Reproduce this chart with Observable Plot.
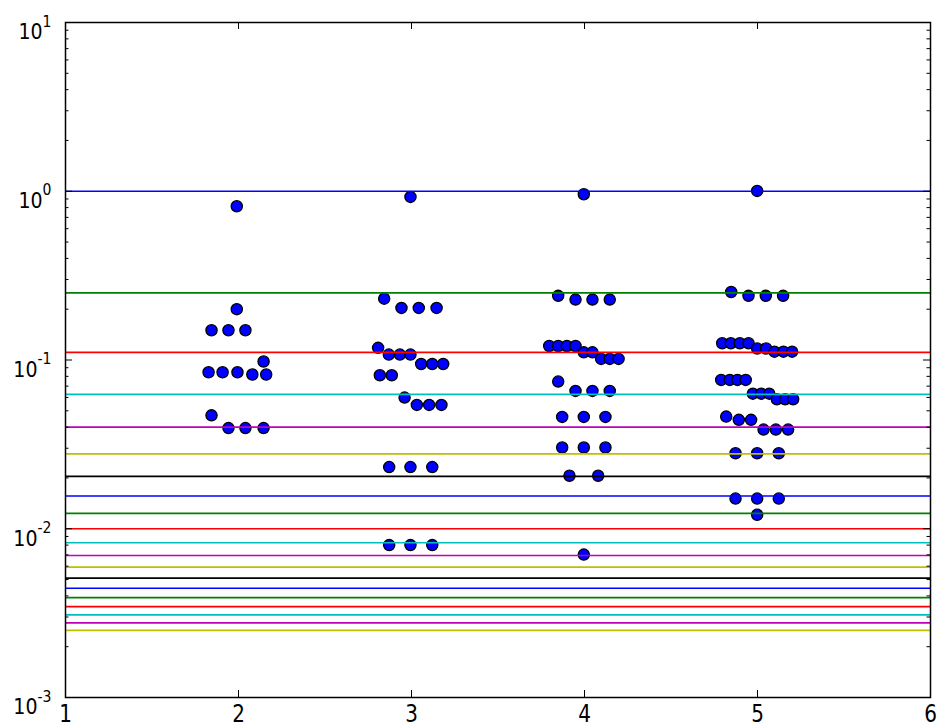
<!DOCTYPE html>
<html><head><meta charset="utf-8">
<script src="https://cdn.jsdelivr.net/npm/d3@7"></script>
<script src="https://cdn.jsdelivr.net/npm/@observablehq/plot@0.6"></script>
<style>html,body{margin:0;padding:0;background:#fff} #chart svg{display:block}</style>
</head><body><div id="chart"></div>
<script>
// horizontal reference levels (top to bottom) and their colours
const levelValues = [1, 0.25, 0.1111, 0.0625, 0.04, 0.02778, 0.02041, 0.01563, 0.01235, 0.01,
  0.00826, 0.00694, 0.00592, 0.0051, 0.00444, 0.00391, 0.00346, 0.00309, 0.00277, 0.0025];
const levelColors = ["#0000ff","#008000","#ff0000","#00bfbf","#bf00bf","#bfbf00","#000000",
  "#0000ff","#008000","#ff0000","#00bfbf","#bf00bf","#bfbf00","#000000",
  "#0000ff","#008000","#ff0000","#00bfbf","#bf00bf","#bfbf00"];

// scattered points
const pointX = [
  1.99, 1.99, 1.844, 1.942, 2.04, 2.145, 1.827, 1.908, 1.994, 2.08, 2.16, 1.844, 1.942, 2.04, 2.145,
  2.994, 2.842, 2.942, 3.042, 3.145, 2.807, 2.869, 2.933, 2.994, 3.056, 3.12, 3.183, 2.817, 2.886,
  2.96, 3.031, 3.102, 3.173, 2.871, 2.994, 3.12, 2.871, 2.994, 3.12,
  3.996, 3.848, 3.948, 4.046, 4.146, 3.796, 3.848, 3.898, 3.948, 3.996, 4.046, 4.096, 4.146, 4.197,
  3.848, 3.948, 4.046, 4.146, 3.871, 3.996, 4.121, 3.871, 3.996, 4.121, 3.913, 4.079, 3.996,
  4.998, 4.848, 4.948, 5.048, 5.148, 4.796, 4.846, 4.898, 4.948, 4.998, 5.05, 5.098, 5.15, 5.2,
  4.79, 4.84, 4.884, 4.932, 4.973, 5.021, 5.068, 5.112, 5.16, 5.206, 4.819, 4.892, 4.963,
  5.035, 5.106, 5.177, 4.873, 4.998, 5.123, 4.873, 4.998, 5.123, 4.998];
const pointY = [
  0.815, 0.2, 0.15, 0.15, 0.15, 0.098, 0.0846, 0.0846, 0.0846, 0.082, 0.082, 0.047, 0.0395, 0.0395, 0.0395,
  0.926, 0.231, 0.2035, 0.2035, 0.2035, 0.118, 0.1077, 0.1077, 0.1077, 0.0947, 0.0947, 0.0947, 0.0812, 0.0812,
  0.0599, 0.0542, 0.0542, 0.0542, 0.0232, 0.0232, 0.0232, 0.008, 0.008, 0.008,
  0.96, 0.24, 0.228, 0.228, 0.228, 0.121, 0.121, 0.121, 0.121, 0.111, 0.111, 0.1015, 0.1015, 0.1015,
  0.0745, 0.0656, 0.0656, 0.0656, 0.046, 0.046, 0.046, 0.0303, 0.0303, 0.0303, 0.0206, 0.0206, 0.00703,
  1.005, 0.253, 0.24, 0.24, 0.24, 0.1257, 0.1257, 0.1257, 0.1257, 0.117, 0.117, 0.112, 0.112, 0.112,
  0.0762, 0.0762, 0.0762, 0.0762, 0.0632, 0.0632, 0.0632, 0.0585, 0.0585, 0.0585, 0.0462, 0.0442, 0.0442,
  0.0387, 0.0387, 0.0387, 0.028, 0.028, 0.028, 0.0151, 0.0151, 0.0151, 0.0121];

// ticks
const xTicks = [1, 2, 3, 4, 5, 6];
const yMajorTicks = [10, 1, 0.1, 0.01, 0.001];
const yMinorTicks = [0.002,0.003,0.004,0.005,0.006,0.007,0.008,0.009,
  0.02,0.03,0.04,0.05,0.06,0.07,0.08,0.09,
  0.2,0.3,0.4,0.5,0.6,0.7,0.8,0.9,
  2,3,4,5,6,7,8,9];

const W = 942, H = 727, mL = 65, mR = 12, mT = 22, mB = 30;
const innerW = W - mL - mR, innerH = H - mT - mB;
const levels = levelValues.map((v, i) => ({v, c: levelColors[i]}));
const points = pointX.map((x, i) => ({x, y: pointY[i]}));
const id = d => d;

const plot = Plot.plot({
  width: W, height: H,
  marginLeft: mL, marginRight: mR, marginTop: mT, marginBottom: mB,
  style: {fontFamily: "'DejaVu Sans', sans-serif", fontSize: "19px", background: "white", color: "black"},
  x: {type: "linear", domain: [1, 6]},
  y: {type: "log", domain: [0.001, 10]},
  marks: [
    Plot.dot(points, {x: "x", y: "y", r: 5.6, fill: "#0000ff", stroke: "black", strokeWidth: 1.3}),
    Plot.ruleY(levels, {y: "v", stroke: "c", strokeWidth: 1.7}),
    Plot.tickY(yMajorTicks, {y: id, stroke: "black", strokeWidth: 1, insetRight: innerW - 7}),
    Plot.tickY(yMajorTicks, {y: id, stroke: "black", strokeWidth: 1, insetLeft: innerW - 7}),
    Plot.tickY(yMinorTicks, {y: id, stroke: "black", strokeWidth: 1, insetRight: innerW - 3.5}),
    Plot.tickY(yMinorTicks, {y: id, stroke: "black", strokeWidth: 1, insetLeft: innerW - 3.5}),
    Plot.tickX(xTicks, {x: id, stroke: "black", strokeWidth: 1, insetTop: innerH - 7}),
    Plot.tickX(xTicks, {x: id, stroke: "black", strokeWidth: 1, insetBottom: innerH - 7}),
    Plot.frame({stroke: "black", strokeWidth: 1.5}),
    Plot.axisX(xTicks, {tickSize: 0, tickPadding: 7, label: null, fontSize: 20, tickFormat: d => String(d)}),
    Plot.axisY(yMajorTicks, {tickSize: 0, tickPadding: 14, label: null,
      tickFormat: d => String(Math.round(Math.log10(d)))})
  ]
});

document.getElementById("chart").appendChild(plot);

// stretch a tick label vertically about its anchor, keeping Plot's own placement
function stretch(node, s) {
  const tr = node.getAttribute("transform");
  if (tr) {
    node.setAttribute("transform", tr + ` scale(1,${s})`);
  } else {
    const x = +node.getAttribute("x") || 0, y = +node.getAttribute("y") || 0;
    node.setAttribute("transform", `translate(${x},${y}) scale(1,${s}) translate(${-x},${-y})`);
  }
}

// turn exponent labels into 10^n with a real superscript
d3.select(plot).selectAll('g[aria-label="y-axis tick label"] text').each(function() {
  const exp = this.textContent.replace("−", "-");
  const t = d3.select(this);
  t.text(null).attr("dy", "0.45em");
  t.append("tspan").text("10");
  t.append("tspan").attr("dy", "-11").attr("font-size", "14px").text(exp);
  stretch(this, 1.15);
});
d3.select(plot).selectAll('g[aria-label="x-axis tick label"] text').each(function() {
  stretch(this, 1.2);
});
</script>
</body></html>
